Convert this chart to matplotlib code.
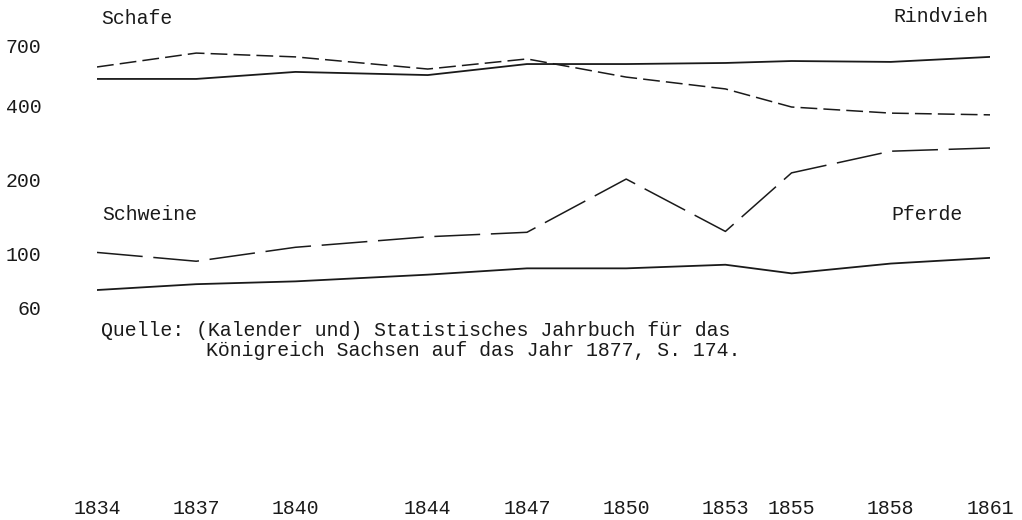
import matplotlib

matplotlib.use("Agg")
import matplotlib.pyplot as plt

# values in thousands (log scale)
years = [1834, 1837, 1840, 1844, 1847, 1850, 1853, 1855, 1858, 1861]
schafe = [575, 655, 632, 564, 620, 523, 468, 395, 373, 367]
rindvieh = [514, 514, 549, 533, 591, 591, 597, 608, 603, 632]
schweine = [101, 93, 106, 117, 122, 201, 123, 213, 261, 269]
pferde = [71, 75, 77, 82, 87, 87, 90, 83, 91, 96]

y_ticks = [700, 400, 200, 100, 60]
source_lines = [
    "Quelle: (Kalender und) Statistisches Jahrbuch für das",
    "Königreich Sachsen auf das Jahr 1877, S. 174.",
]

plt.rcParams["font.family"] = ["Liberation Mono", "DejaVu Sans Mono"]
plt.rcParams["font.size"] = 14.3

W, H = 1022, 520
fig = plt.figure(figsize=(W / 100, H / 100), dpi=100)
ax = fig.add_axes([97 / W, 1 - 320 / H, (990 - 97) / W, 280 / H])

ink = "#1a1a1a"
ax.plot(years, rindvieh, color=ink, lw=1.3)
ax.plot(years, schafe, color=ink, lw=1.1, dashes=(11, 4))
ax.plot(years, pferde, color=ink, lw=1.3)
ax.plot(years, schweine, color=ink, lw=1.1, dashes=(30, 7))

ax.set_yscale("log")
ax.set_ylim(53.6, 740.5)
ax.set_xlim(1834, 1861)
ax.set_yticks(y_ticks)
ax.set_yticklabels([str(v) for v in y_ticks])
ax.minorticks_off()
ax.set_xticks(years)
ax.set_xticklabels([str(y) for y in years])
ax.tick_params(axis="y", length=0, pad=40, colors=ink)
ax.tick_params(axis="x", length=0, pad=129, colors=ink)
for s in ax.spines.values():
    s.set_visible(False)

# series labels
fig.text(101 / W, 1 - 19 / H, "Schafe", ha="left", va="center", color=ink)
fig.text(988 / W, 1 - 17 / H, "Rindvieh", ha="right", va="center", color=ink)
fig.text(102 / W, 1 - 215 / H, "Schweine", ha="left", va="center", color=ink)
fig.text(963 / W, 1 - 214 / H, "Pferde", ha="right", va="center", color=ink)

# source note
fig.text(101 / W, 1 - 330 / H, source_lines[0], ha="left", va="center", color=ink)
fig.text(206 / W, 1 - 350 / H, source_lines[1], ha="left", va="center", color=ink)

fig.savefig("out.png", dpi=100, facecolor="white")
